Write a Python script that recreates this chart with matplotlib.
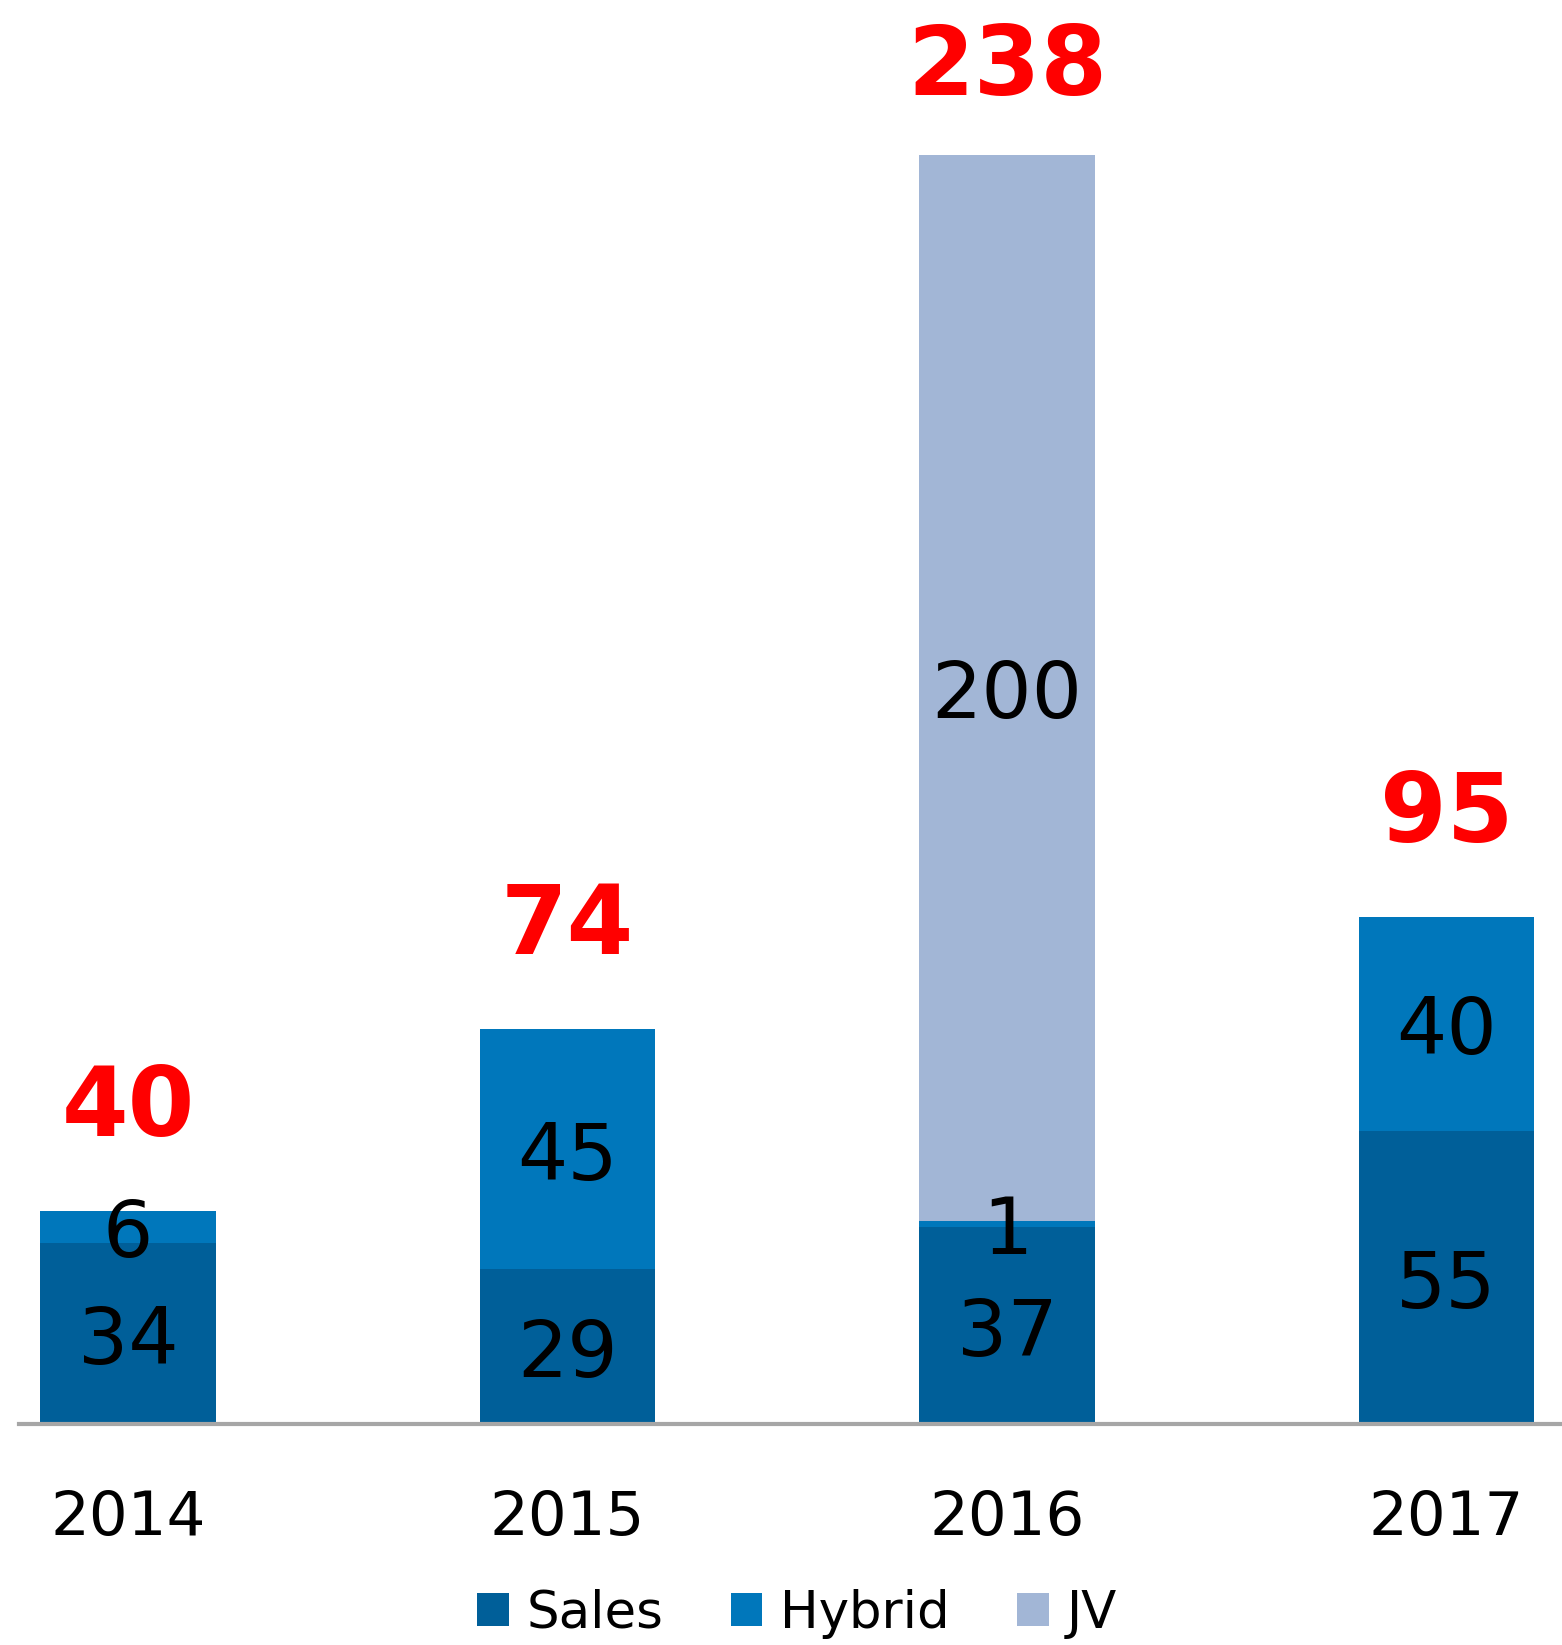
import matplotlib.pyplot as plt
import numpy as np

years = ['2014', '2015', '2016', '2017']
sales = [34, 29, 37, 55]
hybrid = [6, 45, 1, 40]
jv = [0, 0, 200, 0]
totals = [40, 74, 238, 95]

c_sales = '#005F99'
c_hybrid = '#0077BB'
c_jv = '#A2B6D6'

fig = plt.figure(figsize=(15.62, 16.45), dpi=100)
ax = fig.add_axes([19/1562, 221/1645, 1 - 19/1562, 1424/1645])

x = np.arange(len(years))
w = 0.4
b1 = ax.bar(x, sales, w, color=c_sales, label='Sales')
b2 = ax.bar(x, hybrid, w, bottom=sales, color=c_hybrid, label='Hybrid')
bottom_jv = np.array(sales) + np.array(hybrid)
b3 = ax.bar(x, jv, w, bottom=bottom_jv, color=c_jv, label='JV')

# segment labels, centred in each piece
for bars in (b1, b2, b3):
    for r in bars:
        h = r.get_height()
        if h == 0:
            continue
        ax.annotate(str(int(h)), (r.get_x() + r.get_width() / 2, r.get_y() + h / 2),
                    xytext=(0, -6), textcoords='offset points',
                    ha='center', va='center', fontsize=57, color='black')

# totals in red above the bars
for xi, t in zip(x, totals):
    off = 62 if t == max(totals) else 73
    ax.annotate(str(t), (xi, t), xytext=(0, off), textcoords='offset points',
                ha='center', va='center', fontsize=69, fontweight='bold', color='#FF0000')

ax.set_xlim(-0.248, 3.263)
ax.set_ylim(0, 267)
ax.set_xticks(x)
ax.set_xticklabels(years, fontsize=44)
ax.tick_params(axis='x', length=0, pad=47)
ax.set_yticks([])
for s in ['top', 'left', 'right']:
    ax.spines[s].set_visible(False)
ax.spines['bottom'].set_color('#A6A6A6')
ax.spines['bottom'].set_linewidth(3)
ax.spines['bottom'].set_zorder(5)

fig.legend(handles=[b1, b2, b3], loc='center', bbox_to_anchor=(797/1562, 0.019),
           ncol=3, frameon=False, fontsize=37, handlelength=0.62, handleheight=0.62,
           handletextpad=0.35, columnspacing=1.3)

fig.savefig('out.png', dpi=100)
